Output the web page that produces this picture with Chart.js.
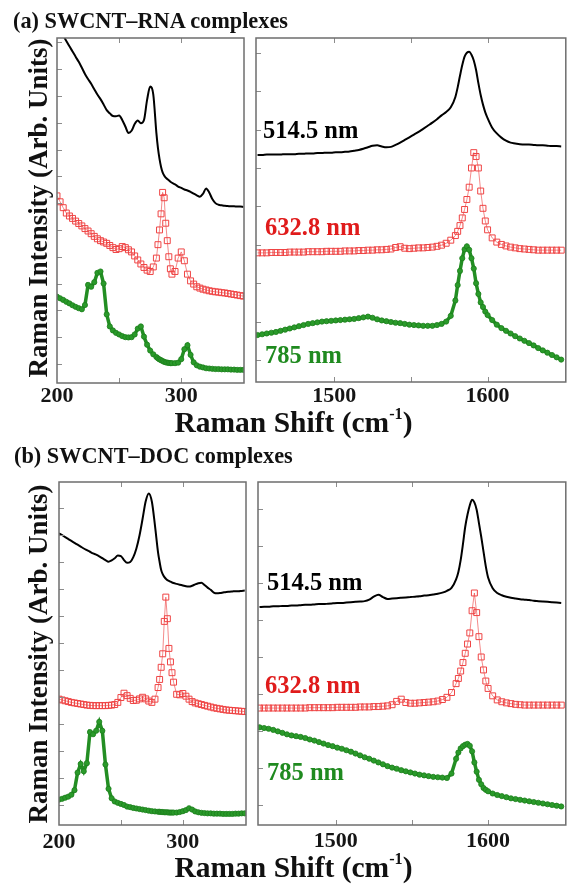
<!DOCTYPE html>
<html><head><meta charset="utf-8">
<script src="https://cdn.jsdelivr.net/npm/chart.js@4.4.1/dist/chart.umd.min.js"></script>
<style>
html,body{margin:0;padding:0;background:#fff;}
#page{position:relative;width:571px;height:884px;overflow:hidden;font-family:"Liberation Serif","Times New Roman",serif;font-weight:bold;color:#111;}
canvas{position:absolute;left:0;top:0;}
.t{position:absolute;white-space:nowrap;line-height:1;}
.c{transform:translate(-50%,-50%);}
.rot{transform:translate(-50%,-50%) rotate(-90deg);}
sup{font-size:0.55em;position:relative;top:-0.12em;vertical-align:top;}
</style></head><body>
<div id="page">
<canvas id="aL" width="571" height="884"></canvas>
<canvas id="aR" width="571" height="884"></canvas>
<canvas id="bL" width="571" height="884"></canvas>
<canvas id="bR" width="571" height="884"></canvas>

<div class="t" style="left:13px;top:9.8px;font-size:22.3px">(a) SWCNT–RNA complexes</div>
<div class="t" style="left:14px;top:444.8px;font-size:22.3px">(b) SWCNT–DOC complexes</div>

<div class="t rot" style="left:37.5px;top:208px;font-size:27px">Raman Intensity (Arb. Units)</div>
<div class="t rot" style="left:37.5px;top:654px;font-size:27px">Raman Intensity (Arb. Units)</div>

<div class="t c" style="left:293.5px;top:422.5px;font-size:29.5px">Raman Shift (cm<sup>-1</sup>)</div>
<div class="t c" style="left:293.5px;top:867.5px;font-size:29.5px">Raman Shift (cm<sup>-1</sup>)</div>

<div class="t" style="left:263px;top:117.75px;font-size:24.5px;color:#000">514.5 nm</div>
<div class="t" style="left:265px;top:214.5px;font-size:24.5px;color:#e01b1b">632.8 nm</div>
<div class="t" style="left:265px;top:342.75px;font-size:24.5px;color:#1f8a1f">785 nm</div>
<div class="t" style="left:267px;top:569.5px;font-size:24.5px;color:#000">514.5 nm</div>
<div class="t" style="left:265px;top:672.75px;font-size:24.5px;color:#e01b1b">632.8 nm</div>
<div class="t" style="left:267px;top:759.5px;font-size:24.5px;color:#1f8a1f">785 nm</div>
</div>

<script>
// ---------- DATA ----------
const rbmShift = [200,202.5,205,207.5,210,212.5,215,217.5,220,222.5,225,227.5,230,232.5,235,237.5,240,242.5,245,247.5,250,252.5,255,257.5,260,262.5,265,267.5,270,272.5,275,277.5,
280,281.25,282.5,283.75,285,286.25,287.5,288.75,290,291.25,292.5,
295,297.5,300,302.5,305,307.5,310,312.5,315,317.5,320,322.5,325,327.5,330,332.5,335,337.5,340,342.5,345,347.5,350];
const gShift = [1450,1453,1456,1459,1462,1465,1468,1471,1474,1477,1480,1483,1486,1489,1492,1495,1498,1501,1504,1507,1510,1513,1516,1519,1522,1525,1528,1531,1534,1537,1540,1543,1546,1549,1552,1555,1558,1561,1564,1567,1570,1573,1576,
1579,1580.5,1582,1583.5,1585,1586.5,1588,1589.5,1591,1592.5,1594,1595.5,1597,1598.5,1600,
1603,1606,1609,1612,1615,1618,1621,1624,1627,1630,1633,1636,1639,1642,1645,1648];

// (a) SWCNT-RNA, RBM region
const rnaRbm514 = [12.62,12.45,12.25,12.05,11.85,11.66,11.46,11.27,11.05,10.82,10.63,10.45,10.25,10.05,9.88,9.68,9.47,9.35,9.25,9.24,9.27,9.10,8.86,8.62,8.70,8.95,9.08,8.98,9.10,9.85,10.35,10.05,
8.61,8.05,7.65,7.35,7.15,7.03,6.95,6.90,6.85,6.80,6.76,
6.70,6.62,6.57,6.51,6.47,6.42,6.35,6.29,6.24,6.35,6.55,6.40,6.15,6.00,5.94,5.92,5.90,5.89,5.88,5.88,5.87,5.87,5.86];
const rnaRbm633 = [6.27,6.05,5.83,5.63,5.52,5.43,5.33,5.24,5.15,5.05,4.96,4.86,4.76,4.67,4.60,4.55,4.50,4.42,4.34,4.27,4.30,4.38,4.34,4.26,4.18,4.03,3.88,3.73,3.60,3.50,3.45,3.62,
3.95,4.45,5.00,5.60,6.40,6.20,5.25,4.60,4.00,3.55,3.35,
3.45,3.95,4.18,3.85,3.35,3.10,2.98,2.88,2.83,2.79,2.76,2.73,2.71,2.69,2.68,2.66,2.65,2.63,2.61,2.59,2.57,2.55,2.53];
const rnaRbm785 = [2.51,2.45,2.39,2.32,2.26,2.19,2.13,2.08,2.04,2.20,2.95,2.88,3.05,3.40,3.45,3.00,1.85,1.40,1.25,1.16,1.10,1.04,1.00,0.99,1.00,1.10,1.32,1.40,1.02,0.72,0.50,0.36,
0.26,0.21,0.17,0.14,0.11,0.08,0.06,0.05,0.04,0.03,0.03,
0.03,0.05,0.18,0.55,0.70,0.34,0.06,-0.05,-0.10,-0.13,-0.16,-0.17,-0.18,-0.19,-0.19,-0.20,-0.20,-0.20,-0.21,-0.21,-0.22,-0.22,-0.22];

// (a) SWCNT-RNA, G band region
const rnaG514 = [5.34,5.34,5.35,5.35,5.35,5.35,5.36,5.36,5.36,5.37,5.37,5.38,5.38,5.39,5.39,5.40,5.40,5.41,5.41,5.42,5.43,5.45,5.47,5.50,5.54,5.58,5.59,5.56,5.54,5.55,5.60,5.66,5.73,5.80,5.87,5.94,6.02,6.10,6.18,6.27,6.37,6.46,6.58,
6.85,7.10,7.40,7.68,7.90,8.00,8.03,7.95,7.80,7.55,7.21,6.90,6.65,6.45,6.30,
6.05,5.90,5.79,5.71,5.66,5.64,5.62,5.61,5.61,5.60,5.59,5.59,5.58,5.57,5.57,5.56];
const rnaG633 = [2.79,2.79,2.79,2.80,2.80,2.80,2.80,2.81,2.81,2.81,2.81,2.82,2.82,2.82,2.82,2.83,2.83,2.83,2.83,2.84,2.84,2.84,2.85,2.85,2.86,2.86,2.87,2.87,2.88,2.89,2.93,2.95,2.91,2.90,2.91,2.92,2.92,2.93,2.94,2.96,2.99,3.04,3.12,
3.24,3.35,3.50,3.70,3.92,4.18,4.50,5.00,5.40,5.30,5.00,4.40,3.95,3.62,3.39,
3.18,3.07,3.01,2.97,2.94,2.92,2.90,2.89,2.88,2.87,2.86,2.86,2.86,2.86,2.86,2.86];
const rnaG785 = [0.65,0.67,0.69,0.71,0.73,0.76,0.79,0.82,0.85,0.88,0.91,0.94,0.96,0.98,1.00,1.01,1.02,1.03,1.04,1.05,1.06,1.07,1.09,1.11,1.13,1.10,1.06,1.03,1.01,0.99,0.97,0.96,0.94,0.92,0.91,0.90,0.89,0.89,0.89,0.91,0.94,1.00,1.15,
1.55,1.95,2.32,2.65,2.88,2.96,2.87,2.65,2.38,2.00,1.72,1.50,1.38,1.26,1.17,
1.04,0.92,0.83,0.76,0.69,0.62,0.56,0.50,0.44,0.38,0.31,0.25,0.19,0.13,0.07,0.01];

// (b) SWCNT-DOC, RBM region
const docRbm514 = [10.06,10.00,9.92,9.85,9.78,9.71,9.64,9.57,9.50,9.44,9.38,9.32,9.27,9.21,9.14,9.07,9.01,9.06,9.14,9.24,9.22,9.07,8.97,9.00,9.18,9.50,9.98,10.60,11.25,11.54,11.23,10.35,
9.35,9.00,8.70,8.55,8.45,8.38,8.33,8.30,8.27,8.24,8.22,
8.19,8.16,8.13,8.10,8.09,8.12,8.17,8.21,8.23,8.15,8.05,7.97,7.87,7.84,7.85,7.87,7.89,7.90,7.91,7.92,7.92,7.93,7.94];
const docRbm633 = [3.92,3.89,3.86,3.83,3.80,3.78,3.76,3.74,3.72,3.70,3.69,3.68,3.68,3.68,3.68,3.68,3.69,3.70,3.72,3.80,3.98,4.14,4.05,3.95,3.87,3.88,3.93,3.99,3.93,3.85,3.80,3.92,
4.35,4.65,5.10,5.60,6.80,7.70,6.90,5.80,5.30,4.90,4.55,
4.10,4.08,4.13,4.03,3.92,3.83,3.78,3.75,3.72,3.69,3.66,3.63,3.60,3.58,3.56,3.54,3.52,3.51,3.50,3.49,3.48,3.47,3.46];
const docRbm785 = [0.20,0.23,0.27,0.31,0.38,0.55,1.20,1.52,1.25,1.55,2.70,2.62,2.75,3.08,2.75,1.50,0.60,0.25,0.13,0.08,0.04,0.00,-0.06,-0.08,-0.11,-0.13,-0.15,-0.17,-0.19,-0.21,-0.23,-0.24,
-0.25,-0.25,-0.26,-0.26,-0.27,-0.27,-0.27,-0.28,-0.28,-0.28,-0.28,
-0.28,-0.26,-0.23,-0.19,-0.12,-0.17,-0.24,-0.27,-0.29,-0.30,-0.31,-0.31,-0.32,-0.32,-0.32,-0.33,-0.33,-0.33,-0.33,-0.32,-0.32,-0.31,-0.31];

// (b) SWCNT-DOC, G band region
const docG514 = [5.35,5.36,5.36,5.37,5.37,5.38,5.38,5.39,5.39,5.40,5.41,5.41,5.42,5.43,5.43,5.44,5.45,5.46,5.46,5.47,5.48,5.49,5.50,5.51,5.55,5.63,5.68,5.62,5.57,5.58,5.59,5.60,5.61,5.62,5.63,5.64,5.66,5.67,5.69,5.71,5.74,5.79,5.87,
6.10,6.30,6.62,7.05,7.52,7.85,8.10,8.25,8.18,7.98,7.62,7.25,6.85,6.45,6.15,
5.86,5.73,5.67,5.63,5.60,5.58,5.56,5.55,5.54,5.52,5.51,5.50,5.49,5.48,5.47,5.46];
const docG633 = [2.62,2.62,2.62,2.62,2.62,2.62,2.62,2.62,2.62,2.62,2.62,2.63,2.63,2.63,2.63,2.63,2.63,2.64,2.64,2.64,2.64,2.64,2.65,2.65,2.65,2.66,2.66,2.67,2.68,2.71,2.80,2.86,2.77,2.75,2.75,2.76,2.77,2.78,2.79,2.81,2.85,2.91,3.04,
3.28,3.42,3.62,3.85,4.10,4.35,4.65,5.25,5.73,5.20,4.55,4.00,3.65,3.35,3.15,
2.95,2.84,2.79,2.76,2.74,2.72,2.71,2.70,2.70,2.70,2.70,2.70,2.70,2.70,2.70,2.70];
const docG785 = [2.10,2.08,2.06,2.03,1.99,1.95,1.91,1.88,1.86,1.84,1.81,1.77,1.74,1.70,1.66,1.62,1.59,1.55,1.52,1.48,1.44,1.39,1.34,1.29,1.25,1.20,1.15,1.10,1.05,1.01,0.98,0.94,0.91,0.88,0.85,0.82,0.80,0.78,0.76,0.75,0.74,0.73,0.85,
1.25,1.42,1.53,1.59,1.63,1.65,1.60,1.45,1.15,0.90,0.68,0.56,0.46,0.41,0.37,
0.31,0.27,0.24,0.21,0.18,0.16,0.14,0.12,0.10,0.08,0.06,0.04,0.02,0.00,-0.02,-0.04];

const rbmTickValues = [200, 250, 300];
const gTickValues = [1500, 1550, 1600];

// ---------- DRAWING ----------
const W = 571, H = 884, AXIS_H = 40;

const styles = {
  line: {borderColor:'#000', borderWidth:2, pointRadius:0, cubicInterpolationMode:'monotone'},
  square: {borderColor:'rgba(236,60,60,0.6)', borderWidth:1, pointStyle:'rect', pointRadius:4.2,
           pointBorderColor:'#ef4444', pointBackgroundColor:'rgba(255,255,255,0)', pointBorderWidth:1, tension:0},
  dot: {borderColor:'#238e23', borderWidth:3.5, pointStyle:'circle', pointRadius:2.6,
        pointBackgroundColor:'#2a9a2a', pointBorderColor:'#1c7f1c', pointBorderWidth:0.8, tension:0}
};

const framePlugin = {
  id: 'frame',
  afterDraw(chart, args, opts) {
    const {ctx, chartArea: a, scales} = chart;
    const x = scales.x, y = scales.y;
    ctx.save();
    ctx.strokeStyle = '#8c8c8c';
    ctx.lineWidth = 1;
    ctx.beginPath();
    for (const v of opts.xTicks) {
      const px = Math.round(x.getPixelForValue(v)) + 0.5;
      if (px <= a.left + 2 || px >= a.right - 2) continue;
      ctx.moveTo(px, a.bottom); ctx.lineTo(px, a.bottom - 5);
      ctx.moveTo(px, a.top); ctx.lineTo(px, a.top + 5);
    }
    for (let v = Math.ceil(y.min); v <= Math.floor(y.max); v++) {
      const py = Math.round(y.getPixelForValue(v)) + 0.5;
      ctx.moveTo(a.left, py); ctx.lineTo(a.left + 5, py);
    }
    ctx.stroke();
    ctx.strokeStyle = '#6e6e6e';
    ctx.lineWidth = 1.5;
    ctx.strokeRect(a.left, a.top, a.right - a.left, a.bottom - a.top);
    ctx.restore();
  }
};

function panel(id, box, xr, yr, labPad, xs, series, xTicks) {
  const datasets = series.map(s => Object.assign({
    data: xs.map((x, i) => ({x: x, y: s.ys[i]})),
    label: s.name
  }, styles[s.kind]));
  new Chart(document.getElementById(id), {
    type: 'line',
    data: {datasets},
    options: {
      responsive: false, animation: false, devicePixelRatio: 1,
      layout: {padding: {left: box.l, top: box.t, right: W - box.r, bottom: H - box.b - AXIS_H}},
      plugins: {legend: {display: false}, tooltip: {enabled: false}, frame: {xTicks}},
      scales: {
        x: {
          type: 'linear', min: xr[0], max: xr[1],
          grid: {display: false, drawTicks: false}, border: {display: false},
          afterBuildTicks: (s) => { s.ticks = xTicks.map(v => ({value: v})); },
          afterFit: (s) => { s.height = AXIS_H; },
          ticks: {
            autoSkip: false, maxRotation: 0, minRotation: 0, padding: labPad, color: '#151515',
            font: {family: 'Liberation Serif', size: 22, weight: 'bold', lineHeight: 1},
            callback: (v) => (Math.abs(v % 100) < 1e-6 ? String(v) : '')
          }
        },
        y: {display: false, min: yr[0], max: yr[1]}
      }
    },
    plugins: [framePlugin]
  });
}

panel('aL', {l:57, t:38, r:244, b:383}, [200, 350.5], [-0.71, 12.16], 2, rbmShift,
  [{name:'514.5 nm', kind:'line', ys:rnaRbm514}, {name:'632.8 nm', kind:'square', ys:rnaRbm633}, {name:'785 nm', kind:'dot', ys:rnaRbm785}], rbmTickValues);
panel('aR', {l:256, t:38, r:567, b:382}, [1449, 1651], [-0.573, 8.385], 3, gShift,
  [{name:'514.5 nm', kind:'line', ys:rnaG514}, {name:'632.8 nm', kind:'square', ys:rnaG633}, {name:'785 nm', kind:'dot', ys:rnaG785}], gTickValues);
panel('bL', {l:59, t:482, r:246, b:825}, [200, 351], [-0.741, 11.963], 6, rbmShift,
  [{name:'514.5 nm', kind:'line', ys:docRbm514}, {name:'632.8 nm', kind:'square', ys:docRbm633}, {name:'785 nm', kind:'dot', ys:docRbm785}], rbmTickValues);
panel('bR', {l:258, t:482, r:569, b:825}, [1449, 1651], [-0.541, 8.73], 5, gShift,
  [{name:'514.5 nm', kind:'line', ys:docG514}, {name:'632.8 nm', kind:'square', ys:docG633}, {name:'785 nm', kind:'dot', ys:docG785}], gTickValues);
</script>
</body></html>
